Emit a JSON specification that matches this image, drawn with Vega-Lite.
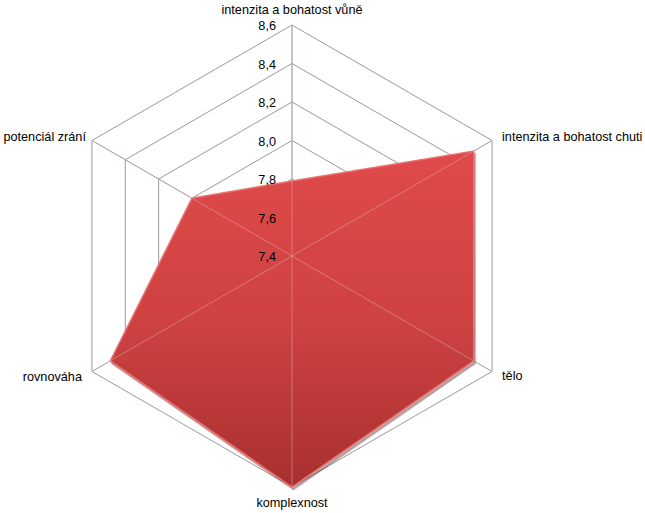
{
  "$schema": "https://vega.github.io/schema/vega-lite/v6.json",
  "width": 645,
  "height": 513,
  "autosize": {"type": "none"},
  "padding": 0,
  "background": "white",
  "config": {"view": {"stroke": null}, "text": {"font": "Liberation Sans", "fontSize": 12.7, "color": "#000000"}},
  "datasets": {
    "scores": [
      {"kategorie": "intenzita a bohatost vůně", "idx": 0, "hodnota": 7.79},
      {"kategorie": "intenzita a bohatost chuti", "idx": 1, "hodnota": 8.49},
      {"kategorie": "tělo", "idx": 2, "hodnota": 8.49},
      {"kategorie": "komplexnost", "idx": 3, "hodnota": 8.6},
      {"kategorie": "rovnováha", "idx": 4, "hodnota": 8.49},
      {"kategorie": "potenciál zrání", "idx": 5, "hodnota": 8.0}
    ],
    "rings": [
      {"level": 7.6, "k": [0, 1, 2, 3, 4, 5]},
      {"level": 7.8, "k": [0, 1, 2, 3, 4, 5]},
      {"level": 8.0, "k": [0, 1, 2, 3, 4, 5]},
      {"level": 8.2, "k": [0, 1, 2, 3, 4, 5]},
      {"level": 8.4, "k": [0, 1, 2, 3, 4, 5]},
      {"level": 8.6, "k": [0, 1, 2, 3, 4, 5]}
    ],
    "ticks": [
      {"level": 7.4, "label": "7,4"},
      {"level": 7.6, "label": "7,6"},
      {"level": 7.8, "label": "7,8"},
      {"level": 8.0, "label": "8,0"},
      {"level": 8.2, "label": "8,2"},
      {"level": 8.4, "label": "8,4"},
      {"level": 8.6, "label": "8,6"}
    ]
  },
  "layer": [
    {
      "data": {"name": "rings"},
      "transform": [
        {"flatten": ["k"]},
        {"calculate": "(datum.level - 7.4) * sin(datum.k * PI / 3)", "as": "px"},
        {"calculate": "(datum.level - 7.4) * cos(datum.k * PI / 3)", "as": "py"}
      ],
      "mark": {"type": "line", "interpolate": "linear-closed", "stroke": "#9a9a9a", "strokeWidth": 1},
      "encoding": {
        "x": {"field": "px", "type": "quantitative", "scale": {"domain": [-1.5169, 1.8338], "nice": false, "zero": false}, "axis": null},
        "y": {"field": "py", "type": "quantitative", "scale": {"domain": [-1.3351, 1.3299], "nice": false, "zero": false}, "axis": null},
        "detail": {"field": "level"},
        "order": {"field": "k"}
      }
    },
    {
      "data": {"name": "rings"},
      "transform": [
        {"filter": "datum.level == 8.6"},
        {"flatten": ["k"]},
        {"calculate": "(datum.level - 7.4) * sin(datum.k * PI / 3)", "as": "px"},
        {"calculate": "(datum.level - 7.4) * cos(datum.k * PI / 3)", "as": "py"}
      ],
      "mark": {"type": "rule", "stroke": "#9a9a9a", "strokeWidth": 1},
      "encoding": {
        "x": {"field": "px", "type": "quantitative"},
        "y": {"field": "py", "type": "quantitative"},
        "x2": {"datum": 0},
        "y2": {"datum": 0}
      }
    },
    {
      "data": {"name": "scores"},
      "transform": [
        {"calculate": "(datum.hodnota - 7.4) * sin(datum.idx * PI / 3)", "as": "px"},
        {"calculate": "(datum.hodnota - 7.4) * cos(datum.idx * PI / 3)", "as": "py"}
      ],
      "mark": {"type": "line", "interpolate": "linear-closed", "fill": "#5a2020", "fillOpacity": 0.35, "stroke": "#5a2020", "strokeOpacity": 0.25, "strokeWidth": 2, "xOffset": 1.5, "yOffset": 2.5},
      "encoding": {
        "x": {"field": "px", "type": "quantitative"},
        "y": {"field": "py", "type": "quantitative"},
        "order": {"field": "idx"}
      }
    },
    {
      "data": {"name": "scores"},
      "transform": [
        {"calculate": "(datum.hodnota - 7.4) * sin(datum.idx * PI / 3)", "as": "px"},
        {"calculate": "(datum.hodnota - 7.4) * cos(datum.idx * PI / 3)", "as": "py"}
      ],
      "mark": {
        "type": "line",
        "interpolate": "linear-closed",
        "fill": {"gradient": "linear", "x1": 0, "y1": 0, "x2": 0, "y2": 1, "stops": [{"offset": 0, "color": "#e04a4a"}, {"offset": 0.5, "color": "#cf4242"}, {"offset": 1, "color": "#a83030"}]},
        "stroke": "#e87070",
        "strokeWidth": 1.5
      },
      "encoding": {
        "x": {"field": "px", "type": "quantitative"},
        "y": {"field": "py", "type": "quantitative"},
        "order": {"field": "idx"}
      }
    },
    {
      "data": {"name": "rings"},
      "transform": [
        {"filter": "datum.level == 8.6"},
        {"flatten": ["k"]},
        {"calculate": "(datum.level - 7.4) * sin(datum.k * PI / 3)", "as": "px"},
        {"calculate": "(datum.level - 7.4) * cos(datum.k * PI / 3)", "as": "py"}
      ],
      "mark": {"type": "rule", "stroke": "#d8a8a8", "strokeOpacity": 0.55, "strokeWidth": 1},
      "encoding": {
        "x": {"field": "px", "type": "quantitative"},
        "y": {"field": "py", "type": "quantitative"},
        "x2": {"datum": 0},
        "y2": {"datum": 0}
      }
    },
    {
      "data": {"name": "ticks"},
      "transform": [
        {"calculate": "0", "as": "px"},
        {"calculate": "datum.level - 7.4", "as": "py"}
      ],
      "mark": {"type": "text", "align": "right", "baseline": "middle", "dx": -16, "dy": 1},
      "encoding": {
        "x": {"field": "px", "type": "quantitative"},
        "y": {"field": "py", "type": "quantitative"},
        "text": {"field": "label"}
      }
    },
    {
      "data": {"name": "scores"},
      "transform": [
        {"filter": "datum.idx == 0"},
        {"calculate": "1.2 * sin(datum.idx * PI / 3)", "as": "px"},
        {"calculate": "1.2 * cos(datum.idx * PI / 3)", "as": "py"}
      ],
      "mark": {"type": "text", "align": "center", "baseline": "middle", "dy": -15},
      "encoding": {
        "x": {"field": "px", "type": "quantitative"},
        "y": {"field": "py", "type": "quantitative"},
        "text": {"field": "kategorie"}
      }
    },
    {
      "data": {"name": "scores"},
      "transform": [
        {"filter": "datum.idx == 1"},
        {"calculate": "1.2 * sin(datum.idx * PI / 3)", "as": "px"},
        {"calculate": "1.2 * cos(datum.idx * PI / 3)", "as": "py"}
      ],
      "mark": {"type": "text", "align": "left", "baseline": "middle", "dx": 10, "dy": -4},
      "encoding": {
        "x": {"field": "px", "type": "quantitative"},
        "y": {"field": "py", "type": "quantitative"},
        "text": {"field": "kategorie"}
      }
    },
    {
      "data": {"name": "scores"},
      "transform": [
        {"filter": "datum.idx == 2"},
        {"calculate": "1.2 * sin(datum.idx * PI / 3)", "as": "px"},
        {"calculate": "1.2 * cos(datum.idx * PI / 3)", "as": "py"}
      ],
      "mark": {"type": "text", "align": "left", "baseline": "middle", "dx": 10, "dy": 5},
      "encoding": {
        "x": {"field": "px", "type": "quantitative"},
        "y": {"field": "py", "type": "quantitative"},
        "text": {"field": "kategorie"}
      }
    },
    {
      "data": {"name": "scores"},
      "transform": [
        {"filter": "datum.idx == 3"},
        {"calculate": "1.2 * sin(datum.idx * PI / 3)", "as": "px"},
        {"calculate": "1.2 * cos(datum.idx * PI / 3)", "as": "py"}
      ],
      "mark": {"type": "text", "align": "center", "baseline": "middle", "dy": 16},
      "encoding": {
        "x": {"field": "px", "type": "quantitative"},
        "y": {"field": "py", "type": "quantitative"},
        "text": {"field": "kategorie"}
      }
    },
    {
      "data": {"name": "scores"},
      "transform": [
        {"filter": "datum.idx == 4"},
        {"calculate": "1.2 * sin(datum.idx * PI / 3)", "as": "px"},
        {"calculate": "1.2 * cos(datum.idx * PI / 3)", "as": "py"}
      ],
      "mark": {"type": "text", "align": "right", "baseline": "middle", "dx": -10, "dy": 6},
      "encoding": {
        "x": {"field": "px", "type": "quantitative"},
        "y": {"field": "py", "type": "quantitative"},
        "text": {"field": "kategorie"}
      }
    },
    {
      "data": {"name": "scores"},
      "transform": [
        {"filter": "datum.idx == 5"},
        {"calculate": "1.2 * sin(datum.idx * PI / 3)", "as": "px"},
        {"calculate": "1.2 * cos(datum.idx * PI / 3)", "as": "py"}
      ],
      "mark": {"type": "text", "align": "right", "baseline": "middle", "dx": -6, "dy": -4},
      "encoding": {
        "x": {"field": "px", "type": "quantitative"},
        "y": {"field": "py", "type": "quantitative"},
        "text": {"field": "kategorie"}
      }
    }
  ]
}
